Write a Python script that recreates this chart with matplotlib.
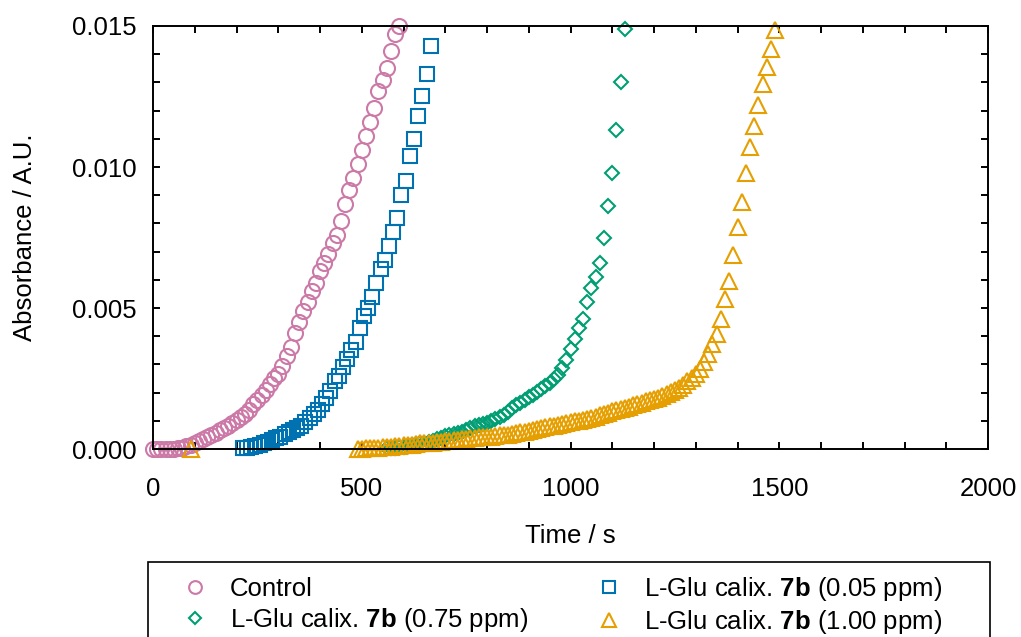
import numpy as np
import matplotlib
matplotlib.use('Agg')
import matplotlib.pyplot as plt
from matplotlib.patches import Rectangle
from matplotlib.ticker import MultipleLocator, FormatStrFormatter

plt.rcParams['font.family'] = ['Liberation Sans', 'DejaVu Sans']
plt.rcParams['mathtext.fontset'] = 'custom'
plt.rcParams['mathtext.rm'] = 'Liberation Sans'
plt.rcParams['mathtext.bf'] = 'Liberation Sans:bold'

# ---- data (time in s, absorbance in A.U.)
t_ctrl = [0, 10, 20, 30, 40, 50, 60, 70, 80, 90, 100, 110, 120, 130, 140, 150,
          160, 170, 180, 190, 200, 210, 220, 230, 240, 250, 260, 270, 280, 290,
          300, 310, 320, 330, 340, 350, 360, 370, 380, 390, 400, 410, 420, 430,
          440, 450, 460, 470, 480, 490, 500, 510, 520, 530, 540, 550, 560, 570,
          580, 590]
a_ctrl = [0.0, 0.0, 0.0, 0.0, 0.0, 0.0, 0.00002, 0.00005, 0.0001, 0.00014,
          0.0002, 0.00027, 0.00036, 0.00043, 0.0005, 0.00058, 0.00067, 0.00074,
          0.00083, 0.00092, 0.00102, 0.00113, 0.00125, 0.0014, 0.00158, 0.00175,
          0.00192, 0.00208, 0.0023, 0.00252, 0.00267, 0.00295, 0.0033, 0.0036,
          0.0041, 0.0045, 0.0049, 0.0052, 0.0056, 0.0059, 0.0063, 0.0066, 0.0069,
          0.0073, 0.0076, 0.0081, 0.0087, 0.0092, 0.0096, 0.0101, 0.0106, 0.0111,
          0.0116, 0.0121, 0.0127, 0.0131, 0.0135, 0.0141, 0.0147, 0.0150]

t_005 = [215, 225, 235, 245, 255, 265, 275, 285, 295, 305, 315, 325, 335, 345,
         355, 365, 375, 385, 395, 405, 415, 425, 435, 445, 455, 465, 475, 485,
         495, 505, 515, 525, 535, 545, 555, 565, 575, 585, 595, 605, 615, 625,
         635, 645, 655, 665]
a_005 = [0.00003, 0.00005, 0.00007, 0.0001, 0.00016, 0.00021, 0.00026, 0.00031,
         0.00038, 0.00043, 0.00052, 0.0006, 0.00067, 0.00074, 0.0008, 0.00097,
         0.0011, 0.00123, 0.0014, 0.00158, 0.0018, 0.00207, 0.0024, 0.0026,
         0.0029, 0.0032, 0.0035, 0.0038, 0.0043, 0.0047, 0.0050, 0.0054, 0.0059,
         0.0064, 0.0067, 0.0072, 0.0077, 0.0082, 0.0090, 0.0095, 0.0104, 0.0110,
         0.0118, 0.0125, 0.0133, 0.0143]

t_075 = [560, 570, 580, 590, 600, 610, 620, 630, 640, 650, 660, 670, 680, 690,
         700, 710, 720, 730, 740, 750, 760, 770, 780, 790, 800, 810, 820, 830,
         840, 850, 860, 870, 880, 890, 900, 910, 920, 930, 940, 950, 960, 970,
         980, 990, 1000, 1010, 1020, 1030, 1040, 1050, 1060, 1070, 1080, 1090,
         1100, 1110, 1120, 1130]
a_075 = [0.00002, 0.00004, 0.00005, 0.00006, 0.00007, 0.00009, 0.00013, 0.00017,
         0.00021, 0.00023, 0.00025, 0.0003, 0.00035, 0.0004, 0.00045, 0.0005,
         0.00054, 0.00058, 0.00062, 0.00068, 0.00074, 0.0008, 0.00084, 0.00089,
         0.00094, 0.00098, 0.00105, 0.00113, 0.00122, 0.00133, 0.00145, 0.00155,
         0.00163, 0.00173, 0.00183, 0.00192, 0.00202, 0.00212, 0.00222, 0.00234,
         0.00248, 0.00262, 0.00287, 0.00315, 0.00355, 0.0039, 0.0043, 0.0046,
         0.0052, 0.0057, 0.0061, 0.0066, 0.0075, 0.0086, 0.0098, 0.0113, 0.0130,
         0.0149]

t_100 = [90, 490, 500, 510, 520, 530, 540, 550, 560, 570, 580, 590, 600, 610,
         620, 630, 640, 650, 660, 670, 680, 690, 700, 710, 720, 730, 740, 750,
         760, 770, 780, 790, 800, 810, 820, 830, 840, 850, 860, 870, 880, 890,
         900, 910, 920, 930, 940, 950, 960, 970, 980, 990, 1000, 1010, 1020,
         1030, 1040, 1050, 1060, 1070, 1080, 1090, 1100, 1110, 1120, 1130, 1140,
         1150, 1160, 1170, 1180, 1190, 1200, 1210, 1220, 1230, 1240, 1250, 1260,
         1270, 1280, 1290, 1300, 1310, 1320, 1330, 1340, 1350, 1360, 1370, 1380,
         1390, 1400, 1410, 1420, 1430, 1440, 1450, 1460, 1470, 1480, 1490]
a_100 = [0.0, 0.0, 0.0, 0.00002, 0.00003, 0.00004, 0.00005, 0.00006, 0.00007,
         0.00008, 0.0001, 0.00012, 0.00013, 0.00014, 0.00016, 0.00018, 0.0002,
         0.00021, 0.00022, 0.00023, 0.00025, 0.00026, 0.00027, 0.00029, 0.00031,
         0.00032, 0.00034, 0.00036, 0.00038, 0.0004, 0.00041, 0.00042, 0.00043,
         0.00044, 0.00046, 0.00048, 0.0005, 0.00051, 0.00053, 0.00056, 0.00059,
         0.00061, 0.00065, 0.00069, 0.00072, 0.00075, 0.00078, 0.0008, 0.00083,
         0.00086, 0.00089, 0.00092, 0.00095, 0.00098, 0.001, 0.00104, 0.00108,
         0.00111, 0.00115, 0.0012, 0.00125, 0.00129, 0.00134, 0.00139, 0.00143,
         0.00146, 0.0015, 0.00155, 0.0016, 0.00164, 0.00169, 0.00174, 0.00178,
         0.00182, 0.00187, 0.00194, 0.00201, 0.0021, 0.00218, 0.00228, 0.0024,
         0.00252, 0.00266, 0.00285, 0.00308, 0.00338, 0.00372, 0.00408, 0.00461,
         0.00532, 0.00595, 0.00688, 0.00787, 0.00876, 0.00979, 0.01071, 0.01145,
         0.0122, 0.01294, 0.01355, 0.01418, 0.01486]

W, H = 1021, 637
fig = plt.figure(figsize=(W / 100, H / 100), dpi=100)
ax = fig.add_axes([0.1499, 0.2951, 0.8178, 0.6641])

mew = 1.5
h_ctrl, = ax.plot(t_ctrl, a_ctrl, 'o', ms=10.8, mfc='none', mec='#CC79A7', mew=mew,
                  clip_on=False, label='Control')
h_005, = ax.plot(t_005, a_005, 's', ms=10, mfc='none', mec='#0072B2', mew=mew,
                 clip_on=False, label=r'L-Glu calix. $\mathbf{7b}$ (0.05 ppm)')
h_075, = ax.plot(t_075, a_075, 'D', ms=7.6, mfc='none', mec='#009E73', mew=mew,
                 clip_on=False, label=r'L-Glu calix. $\mathbf{7b}$ (0.75 ppm)')
h_100, = ax.plot(t_100, a_100, '^', ms=11.5, mfc='none', mec='#E69F00', mew=mew,
                 clip_on=False, label=r'L-Glu calix. $\mathbf{7b}$ (1.00 ppm)')

ax.set_xlim(0, 2000)
ax.set_ylim(0, 0.015)
ax.xaxis.set_major_locator(MultipleLocator(500))
ax.xaxis.set_minor_locator(MultipleLocator(100))
ax.yaxis.set_major_locator(MultipleLocator(0.005))
ax.yaxis.set_minor_locator(MultipleLocator(0.001))
ax.yaxis.set_major_formatter(FormatStrFormatter('%.3f'))
ax.tick_params(which='both', direction='in', top=True, right=True,
               length=5, width=1.4, labelsize=18.5)
ax.tick_params(axis='x', pad=20)
ax.tick_params(axis='y', pad=12)
for s in ax.spines.values():
    s.set_linewidth(1.4)
    s.set_zorder(5)

ax.set_xlabel('Time / s', fontsize=18.5, labelpad=17)
ax.set_ylabel('Absorbance / A.U.', fontsize=18.5, labelpad=25)

# legend box (runs off the bottom edge like in the original)
fig.patches.append(Rectangle((148 / W, -0.05), (990 - 148) / W, 0.05 + (H - 562) / H,
                             transform=fig.transFigure, fill=False,
                             edgecolor='black', linewidth=1.2))

leg = fig.legend([h_ctrl, h_075, h_005, h_100],
                 [h_ctrl.get_label(), h_075.get_label(), h_005.get_label(), h_100.get_label()],
                 loc='upper left', bbox_to_anchor=(182 / W, 1 - 575 / H),
                 ncol=2, fontsize=18.5, frameon=False, markerscale=0.85,
                 handlelength=1.0, handletextpad=0.85, labelspacing=0.21,
                 columnspacing=2.67, borderpad=0, borderaxespad=0)

fig.savefig('out.png', dpi=100)
